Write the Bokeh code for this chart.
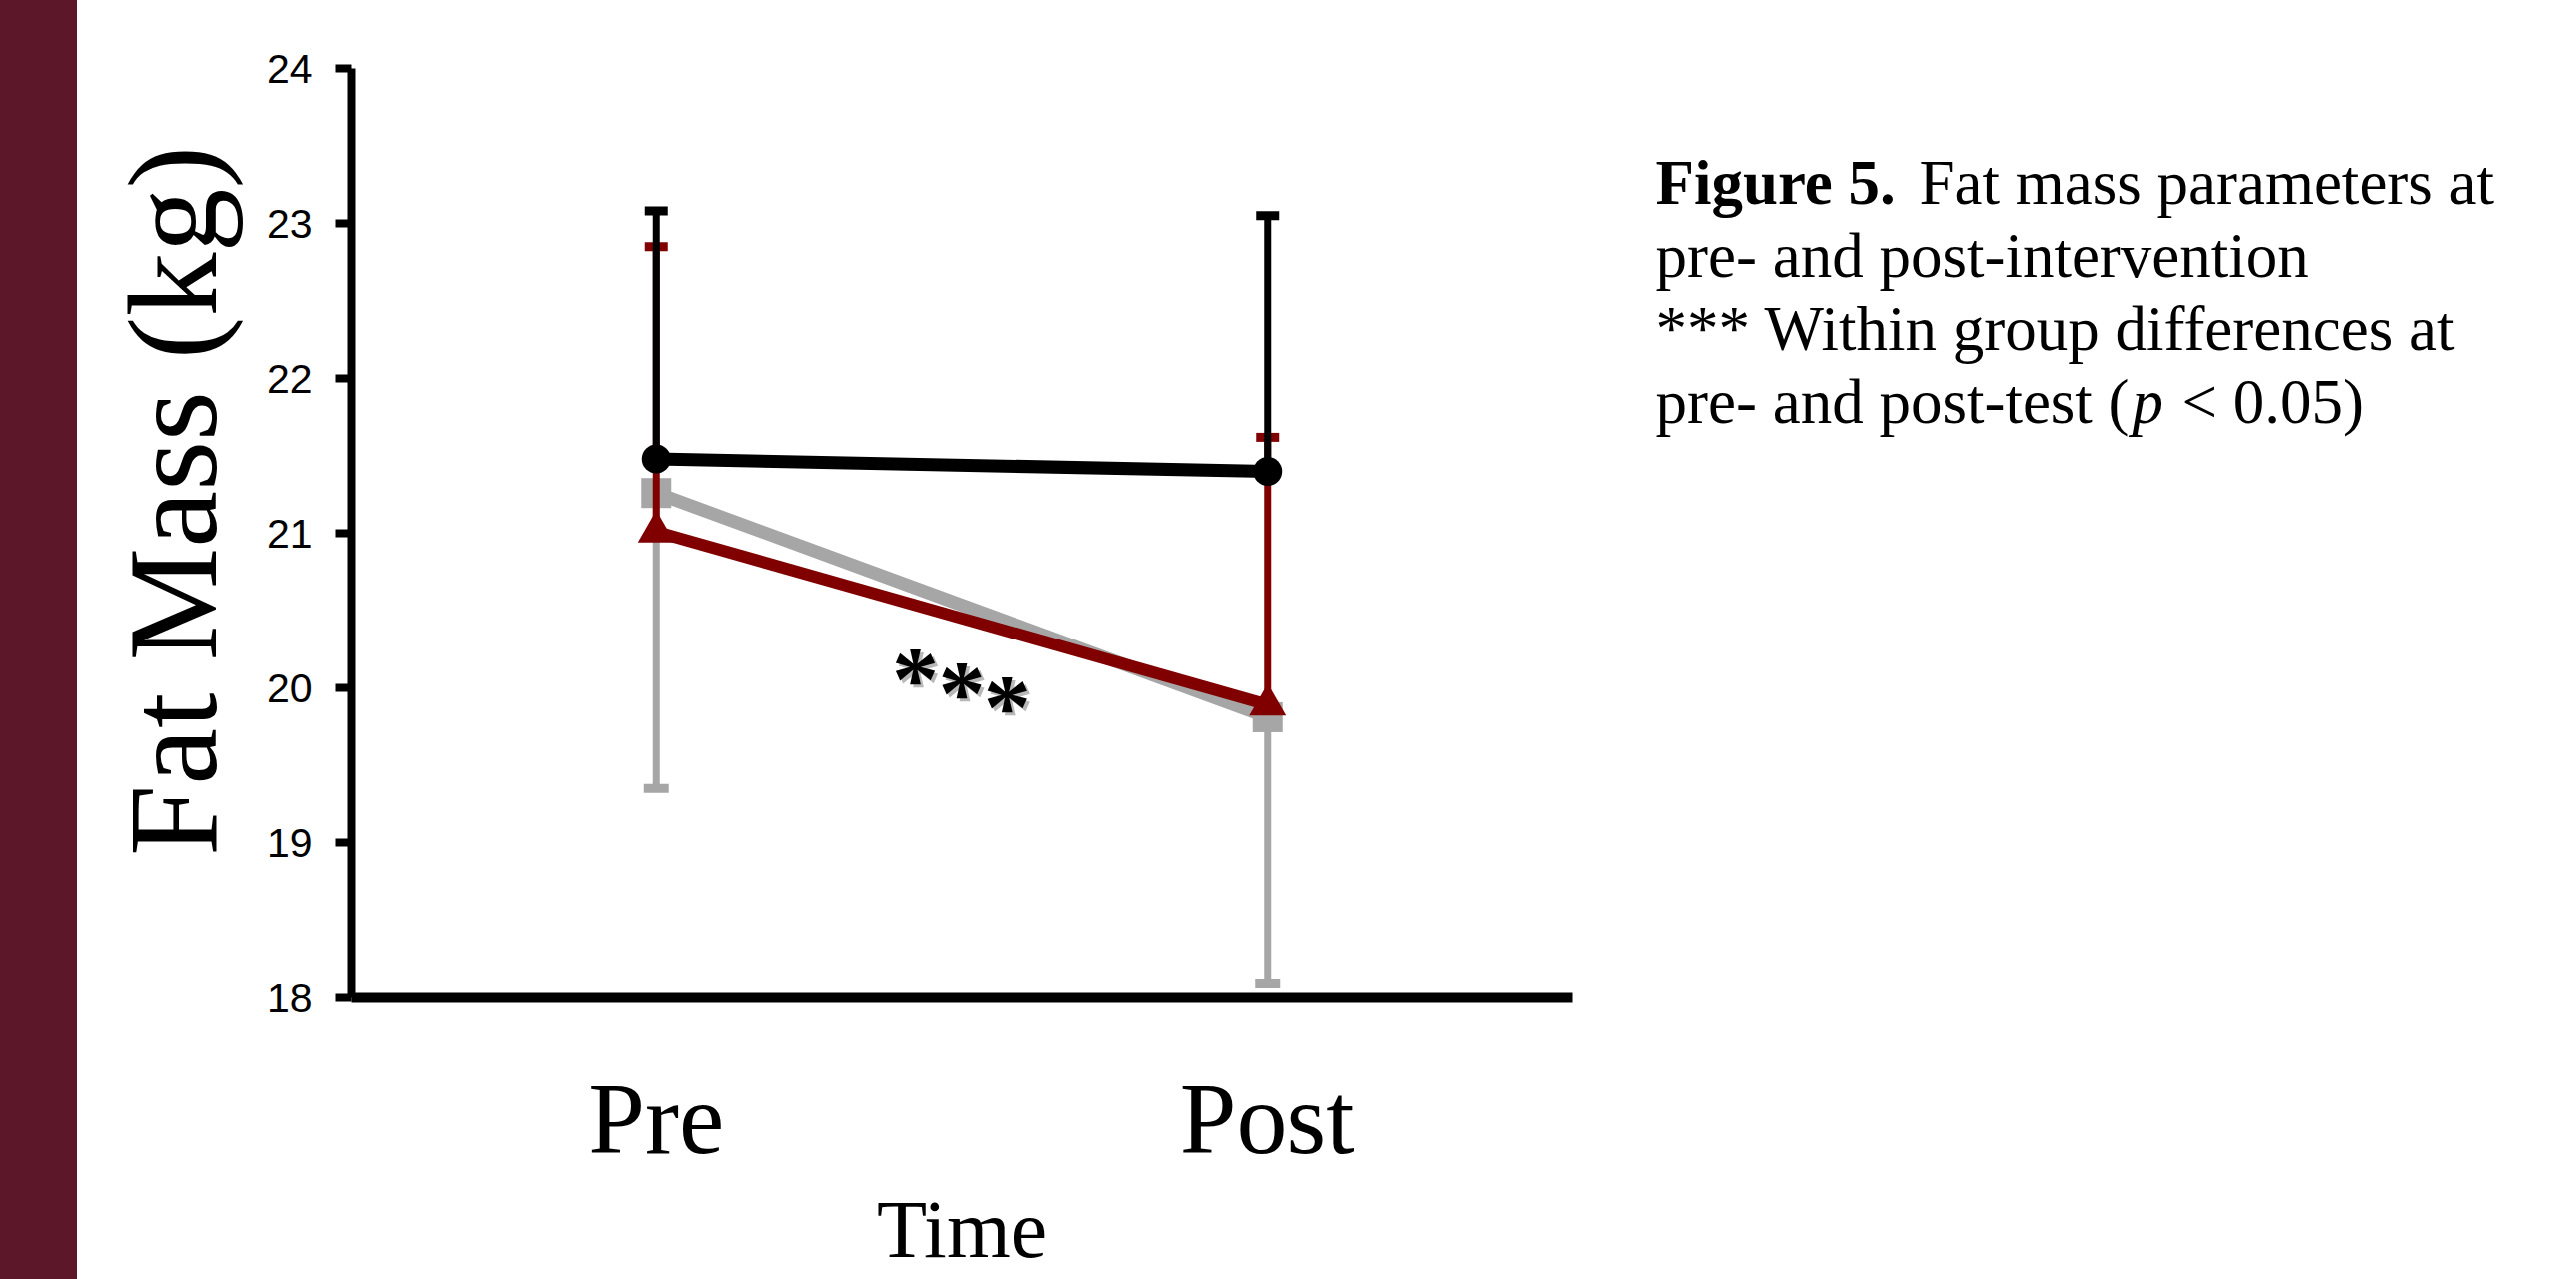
from bokeh.plotting import figure
from bokeh.models import Range1d, FixedTicker, Div
from bokeh.layouts import row
from bokeh.core.properties import value
from bokeh.embed import file_html
from bokeh.resources import INLINE

# ---------------- data ----------------
times = ["Pre", "Post"]
x_pos = [0, 1]

black_mean = [21.48, 21.40]
black_upper = [23.08, 23.05]

gray_mean = [21.26, 19.81]
gray_lower = [19.35, 18.09]

red_mean = [21.01, 19.89]
red_upper = [22.85, 21.62]

y_ticks = [18, 19, 20, 21, 22, 23, 24]

star_x = [0.424, 0.500, 0.574]
star_y = [20.14, 20.05, 19.96]
star_text = ["*", "*", "*"]

y_label = "Fat Mass (kg)"
x_label = "Time"
caption_bold = ["Figure 5."]
caption_lines = ["Fat mass parameters at",
                 "pre- and post-intervention",
                 "*** Within group differences at"]
caption_last = ["pre- and post-test (", "p", "< 0.05)"]

# ---------------- styles ----------------
MAROON_BAR = "#5c1729"
BLACK = "#000000"
GRAY = "#a6a6a6"
RED = "#800000"
SERIF = "Liberation Serif"
TOP, BOTTOM = 68, 282

# ---------------- left maroon strip ----------------
bar = Div(text="", width=77, height=1280,
          styles={"background-color": MAROON_BAR, "margin": "0", "padding": "0"})

# ---------------- chart ----------------
p = figure(width=1523, height=1280, output_backend="svg", toolbar_location=None,
           x_range=Range1d(-0.5, 1.5), y_range=Range1d(18, 24),
           min_border_left=274, min_border_right=26,
           min_border_top=TOP, min_border_bottom=BOTTOM)
p.outline_line_color = None
p.grid.visible = False
p.background_fill_color = "white"
p.border_fill_color = "white"

# gray series (lower error bars)
p.segment(x0=x_pos, y0=gray_mean, x1=x_pos, y1=gray_lower, line_color=GRAY, line_width=7)
p.rect(x=x_pos, y=gray_lower, width=25, height=9, width_units="screen", height_units="screen",
       fill_color=GRAY, line_color=None)
p.line(x=x_pos, y=gray_mean, line_color=GRAY, line_width=13)
p.scatter(x=x_pos, y=gray_mean, marker="square", size=30, fill_color=GRAY, line_color=None)

# red series (upper error bars)
p.segment(x0=x_pos, y0=red_mean, x1=x_pos, y1=red_upper, line_color=RED, line_width=7)
p.rect(x=x_pos, y=red_upper, width=23, height=9, width_units="screen", height_units="screen",
       fill_color=RED, line_color=None)
p.line(x=x_pos, y=red_mean, line_color=RED, line_width=12)
p.scatter(x=x_pos, y=red_mean, marker="triangle", size=37, fill_color=RED, line_color=None)

# black series (upper error bars)
p.segment(x0=x_pos, y0=black_mean, x1=x_pos, y1=black_upper, line_color=BLACK, line_width=7)
p.rect(x=x_pos, y=black_upper, width=23, height=9, width_units="screen", height_units="screen",
       fill_color=BLACK, line_color=None)
p.line(x=x_pos, y=black_mean, line_color=BLACK, line_width=13)
p.scatter(x=x_pos, y=black_mean, marker="circle", size=29, fill_color=BLACK, line_color=None)

# significance stars with soft shadow
p.text(x=star_x, y=star_y, text=star_text, text_font=value(SERIF), text_font_size="94px",
       text_font_style="bold", text_color="#9a9a9a", text_alpha=0.7, text_align="center",
       text_baseline="middle", x_offset=3, y_offset=15)
p.text(x=star_x, y=star_y, text=star_text, text_font=value(SERIF), text_font_size="94px",
       text_font_style="bold", text_color=BLACK, text_align="center", text_baseline="middle",
       x_offset=0, y_offset=12)

# y axis
ya = p.yaxis[0]
ya.ticker = FixedTicker(ticks=y_ticks)
ya.axis_line_width = 8
ya.axis_line_color = BLACK
ya.major_tick_line_width = 8
ya.major_tick_line_color = BLACK
ya.major_tick_out = 16
ya.major_tick_in = 0
ya.minor_tick_line_color = None
ya.major_label_text_font = "Liberation Sans"
ya.major_label_text_font_size = "41px"
ya.major_label_text_color = BLACK
ya.major_label_standoff = 23
ya.axis_label = "\u00a0\u00a0" + y_label
ya.axis_label_text_font = SERIF
ya.axis_label_text_font_size = "128px"
ya.axis_label_text_font_style = "normal"
ya.axis_label_text_color = BLACK
ya.axis_label_standoff = 20

# x axis
xa = p.xaxis[0]
xa.ticker = FixedTicker(ticks=x_pos)
xa.major_label_overrides = {x: t for x, t in zip(x_pos, times)}
xa.axis_line_width = 10
xa.axis_line_color = BLACK
xa.major_tick_line_color = None
xa.major_tick_out = 0
xa.major_tick_in = 0
xa.minor_tick_line_color = None
xa.major_label_text_font = SERIF
xa.major_label_text_font_size = "102px"
xa.major_label_text_color = BLACK
xa.major_label_standoff = 64
xa.axis_label = x_label
xa.axis_label_text_font = SERIF
xa.axis_label_text_font_size = "82px"
xa.axis_label_text_font_style = "normal"
xa.axis_label_text_color = BLACK
xa.axis_label_standoff = 6

# ---------------- caption (ranges in page pixels) ----------------
cap = figure(width=979, height=1280, output_backend="svg", toolbar_location=None,
             x_range=Range1d(1600, 2579), y_range=Range1d(1280 - BOTTOM, TOP),
             min_border_left=0, min_border_right=0, min_border_top=TOP, min_border_bottom=BOTTOM)
cap.axis.visible = False
cap.grid.visible = False
cap.outline_line_color = None
cap.background_fill_color = "white"
cap.border_fill_color = "white"

CAP_SIZE = "63px"
ys = [182, 255, 328, 401]
cap.text(x=[1657], y=[ys[0]], text=caption_bold, text_font=value(SERIF), text_font_size=CAP_SIZE,
         text_font_style="bold", text_color=BLACK, text_baseline="alphabetic")
cap.text(x=[1921, 1657, 1657], y=ys[:3], text=caption_lines, text_font=value(SERIF),
         text_font_size=CAP_SIZE, text_color=BLACK, text_baseline="alphabetic")
cap.text(x=[1657], y=[ys[3]], text=[caption_last[0]], text_font=value(SERIF), text_font_size=CAP_SIZE,
         text_color=BLACK, text_baseline="alphabetic")
cap.text(x=[2134], y=[ys[3]], text=[caption_last[1]], text_font=value(SERIF), text_font_size=CAP_SIZE,
         text_font_style="italic", text_color=BLACK, text_baseline="alphabetic")
cap.text(x=[2184], y=[ys[3]], text=[caption_last[2]], text_font=value(SERIF), text_font_size=CAP_SIZE,
         text_color=BLACK, text_baseline="alphabetic")

layout = row(bar, p, cap, spacing=0)
open("out.html", "w").write(file_html(layout, INLINE))
